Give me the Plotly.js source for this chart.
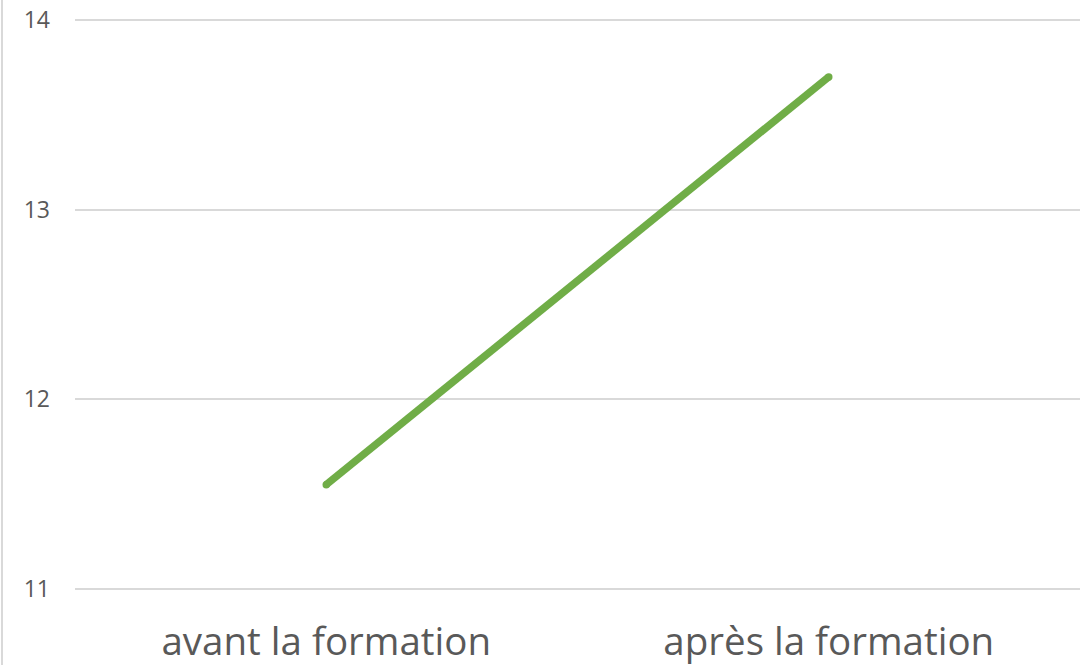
<!DOCTYPE html>
<html>
<head>
<meta charset="utf-8">
<script src="https://cdn.plot.ly/plotly-3.0.1.min.js"></script>
<style>html,body{margin:0;padding:0;background:#fff;}#chart{width:1089px;height:665px;}</style>
</head>
<body>
<div id="chart"></div>
<script>
const categories = ["avant la formation", "après la formation"];
const values = [11.55, 13.7];
const yTicks = [11, 12, 13, 14];

const padPx = 4;
const plotL = 75, plotR = 1080, plotT = 20 - padPx, plotB = 589 + padPx;
const W = 1089, H = 665;
const pw = plotR - plotL, ph = plotB - plotT;
const pad = padPx / 189.7;

Plotly.newPlot('chart', [{
  type: 'scatter',
  mode: 'lines+markers',
  x: categories,
  y: values,
  line: {color: '#70ad47', width: 7.5},
  marker: {color: '#70ad47', size: 7.5, line: {width: 0}},
  hoverinfo: 'skip'
}], {
  width: W, height: H,
  margin: {l: plotL, r: W - plotR, t: plotT, b: H - plotB},
  paper_bgcolor: '#fff', plot_bgcolor: '#fff',
  showlegend: false,
  font: {family: '"Open Sans", sans-serif', color: '#595959'},
  xaxis: {
    type: 'category',
    range: [-0.5, 1.5],
    showgrid: false, zeroline: false, showline: false,
    ticks: '', ticklabelstandoff: 22,
    tickfont: {size: 38.5, color: '#595959'}
  },
  yaxis: {
    range: [11 - pad, 14 + pad],
    tickvals: yTicks,
    ticktext: yTicks.map(String),
    showgrid: true, gridcolor: '#d9d9d9', gridwidth: 2,
    zeroline: false, showline: false,
    ticks: '', ticklabelstandoff: 24,
    tickfont: {size: 23, color: '#595959'}
  },
  shapes: [{
    type: 'line', xref: 'paper', yref: 'paper',
    x0: (2 - plotL) / pw, x1: (2 - plotL) / pw,
    y0: -(H - plotB) / ph, y1: 1 + plotT / ph,
    line: {color: '#d9d9d9', width: 2}
  }]
}, {displayModeBar: false, staticPlot: true});
</script>
</body>
</html>
